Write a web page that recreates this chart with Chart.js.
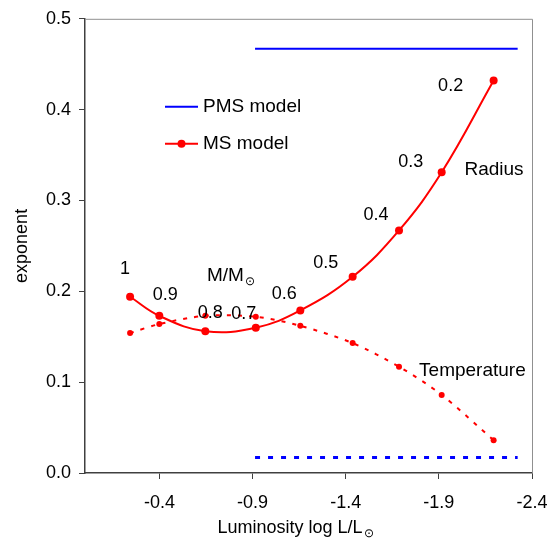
<!DOCTYPE html>
<html>
<head>
<meta charset="utf-8">
<script src="https://cdn.jsdelivr.net/npm/chart.js@4.4.1/dist/chart.umd.min.js"></script>
<style>
  html, body { margin: 0; padding: 0; background: #fff; }
  #wrap { width: 557px; height: 544px; }
</style>
</head>
<body>
<div id="wrap"><canvas id="chart" width="557" height="544"></canvas></div>
<script>
// stellar mass (M/Msun) of each main-sequence model
const massLabels = ['1', '0.9', '0.8', '0.7', '0.6', '0.5', '0.4', '0.3', '0.2'];
// log L/Lsun of each model
const logL = [-0.242, -0.399, -0.646, -0.917, -1.156, -1.437, -1.686, -1.915, -2.194];
// MS exponents
const radiusExp = [0.194, 0.173, 0.156, 0.160, 0.179, 0.216, 0.267, 0.331, 0.432];
const tempExp = [0.154, 0.164, 0.173, 0.172, 0.162, 0.143, 0.117, 0.086, 0.036];
// PMS exponents (constant over the range)
const pmsLogL = [-0.913, -2.323];
const pmsRadiusExp = [0.467, 0.467];
const pmsTempExp = [0.017, 0.017];
// axis ticks
const xTicks = [-2.4, -1.9, -1.4, -0.9, -0.4];
const yTicks = [0, 0.1, 0.2, 0.3, 0.4, 0.5];

const FONT = "'Liberation Sans', Arial, sans-serif";
const RED = '#ff0000';
const BLUE = '#0000ff';
const AXIS = '#404040';

const pts = (xs, ys) => xs.map((x, i) => ({ x: x, y: ys[i] }));

// label offsets (px) from each radius marker
const labelOffsets = [[-5, -28], [6, -21], [5, -18], [-12, -14], [-16, -16],
                      [-27, -14], [-23, -15], [-31, -10], [-43, 5]];

function subText(ctx, main, sub, x, y, size, align) {
  ctx.font = size + 'px ' + FONT;
  const w1 = ctx.measureText(main).width;
  ctx.font = Math.round(size * 0.65) + 'px ' + FONT;
  const w2 = ctx.measureText(sub).width;
  let x0 = x;
  if (align === 'center') x0 = x - (w1 + w2) / 2;
  ctx.textAlign = 'left';
  ctx.textBaseline = 'middle';
  ctx.font = size + 'px ' + FONT;
  ctx.fillText(main, x0, y);
  ctx.font = Math.round(size * 0.65) + 'px ' + FONT;
  ctx.fillText(sub, x0 + w1 + 1, y + size * 0.3);
}

const extras = {
  id: 'extras',
  afterDatasetsDraw(chart) {
    const ctx = chart.ctx;
    const a = chart.chartArea;
    const xs = chart.scales.x, ys = chart.scales.y;
    ctx.save();

    // top and right frame
    ctx.strokeStyle = '#909090';
    ctx.lineWidth = 1;
    ctx.beginPath();
    ctx.moveTo(a.left, a.top + 0.5);
    ctx.lineTo(a.right + 0.5, a.top + 0.5);
    ctx.lineTo(a.right + 0.5, a.bottom);
    ctx.stroke();

    ctx.fillStyle = '#000';
    ctx.textAlign = 'center';
    ctx.textBaseline = 'middle';
    ctx.font = '18px ' + FONT;

    // mass labels next to the radius markers
    massLabels.forEach((m, i) => {
      const px = xs.getPixelForValue(logL[i]);
      const py = ys.getPixelForValue(radiusExp[i]);
      ctx.fillText(m, px + labelOffsets[i][0], py + labelOffsets[i][1]);
    });

    subText(ctx, 'M/M', '\u2299', a.left + 122, a.top + 257, 19, 'left');

    ctx.font = '19px ' + FONT;
    ctx.textAlign = 'center';
    ctx.fillText('Radius', xs.getPixelForValue(-2.196), ys.getPixelForValue(0.334));
    ctx.fillText('Temperature', xs.getPixelForValue(-2.08), ys.getPixelForValue(0.113));

    // legend
    const lx = a.left + 80;
    const ly1 = a.top + 88, ly2 = a.top + 125;
    ctx.lineWidth = 2;
    ctx.strokeStyle = BLUE;
    ctx.beginPath(); ctx.moveTo(lx, ly1); ctx.lineTo(lx + 33, ly1); ctx.stroke();
    ctx.strokeStyle = RED;
    ctx.beginPath(); ctx.moveTo(lx, ly2); ctx.lineTo(lx + 33, ly2); ctx.stroke();
    ctx.fillStyle = RED;
    ctx.beginPath(); ctx.arc(lx + 16.5, ly2, 4, 0, Math.PI * 2); ctx.fill();
    ctx.fillStyle = '#000';
    ctx.textAlign = 'left';
    ctx.font = '19px ' + FONT;
    ctx.fillText('PMS model', lx + 38, ly1);
    ctx.fillText('MS model', lx + 38, ly2);

    // axis titles
    ctx.font = '18px ' + FONT;
    ctx.save();
    ctx.translate(22, (a.top + a.bottom) / 2);
    ctx.rotate(-Math.PI / 2);
    ctx.textAlign = 'center';
    ctx.fillText('exponent', 0, 0);
    ctx.restore();
    subText(ctx, 'Luminosity log L/L', '\u2299', 295, 528, 18, 'center');

    ctx.restore();
  }
};

new Chart(document.getElementById('chart'), {
  type: 'line',
  data: {
    datasets: [
      {
        label: 'MS model',
        data: pts(logL, radiusExp),
        borderColor: RED,
        backgroundColor: RED,
        borderWidth: 2,
        pointRadius: 4,
        pointBorderWidth: 0,
        tension: 0.4
      },
      {
        label: 'MS temperature',
        data: pts(logL, tempExp),
        borderColor: RED,
        backgroundColor: RED,
        borderWidth: 2,
        borderDash: [4, 7],
        pointRadius: 3,
        pointBorderWidth: 0,
        tension: 0.3
      },
      {
        label: 'PMS model',
        data: pts(pmsLogL, pmsRadiusExp),
        borderColor: BLUE,
        borderWidth: 2,
        pointRadius: 0
      },
      {
        label: 'PMS temperature',
        data: pts(pmsLogL, pmsTempExp),
        borderColor: BLUE,
        borderWidth: 3,
        borderDash: [5, 8],
        pointRadius: 0
      }
    ]
  },
  options: {
    responsive: false,
    animation: false,
    layout: { padding: { top: 13, right: 25, left: 0, bottom: 0 } },
    plugins: {
      legend: { display: false },
      tooltip: { enabled: false }
    },
    scales: {
      x: {
        type: 'linear',
        reverse: true,
        min: -2.4,
        max: 0,
        afterBuildTicks: s => { s.ticks = xTicks.map(v => ({ value: v })); },
        afterFit: s => { s.height = 71; },
        ticks: {
          color: '#000',
          font: { family: FONT, size: 18 },
          padding: 13,
          maxRotation: 0,
          callback: v => v.toFixed(1)
        },
        grid: { drawOnChartArea: false, tickLength: 6, color: AXIS },
        border: { color: AXIS, width: 1.5 }
      },
      y: {
        min: 0,
        max: 0.5,
        afterBuildTicks: s => { s.ticks = yTicks.map(v => ({ value: v })); },
        afterFit: s => { s.width = 85; },
        ticks: {
          color: '#000',
          font: { family: FONT, size: 18 },
          padding: 8,
          callback: v => v.toFixed(1)
        },
        grid: { drawOnChartArea: false, tickLength: 6, color: AXIS },
        border: { color: AXIS, width: 1.5 }
      }
    }
  },
  plugins: [extras]
});
</script>
</body>
</html>
